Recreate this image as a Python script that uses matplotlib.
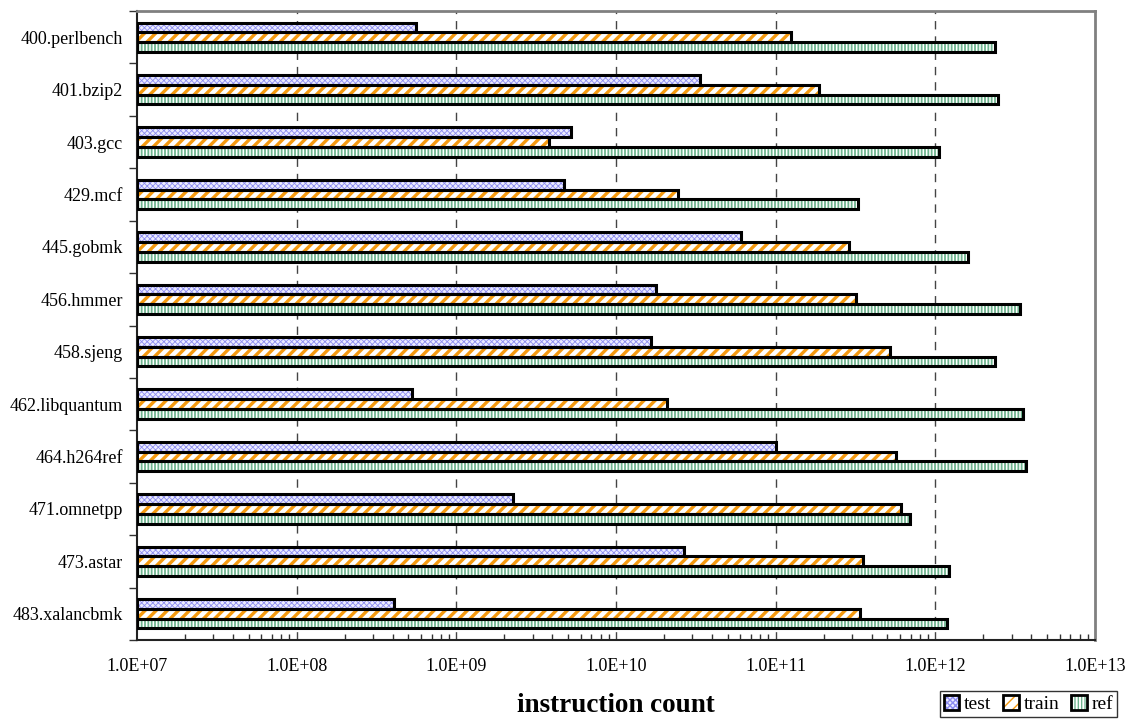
import matplotlib
matplotlib.use('Agg')
import matplotlib.pyplot as plt
import numpy as np
from matplotlib.patches import Patch
from matplotlib.legend_handler import HandlerTuple

benchmarks = ['400.perlbench', '401.bzip2', '403.gcc', '429.mcf', '445.gobmk',
              '456.hmmer', '458.sjeng', '462.libquantum', '464.h264ref',
              '471.omnetpp', '473.astar', '483.xalancbmk']
test = [5.6e8, 3.35e10, 5.2e9, 4.75e9, 6.1e10, 1.78e10,
        1.65e10, 5.3e8, 1.0e11, 2.27e9, 2.67e10, 4.05e8]
train = [1.24e11, 1.86e11, 3.8e9, 2.44e10, 2.9e11, 3.2e11,
         5.2e11, 2.1e10, 5.65e11, 6.1e11, 3.54e11, 3.37e11]
ref = [2.38e12, 2.47e12, 1.06e12, 3.3e11, 1.61e12, 3.37e12,
       2.38e12, 3.56e12, 3.7e12, 6.9e11, 1.21e12, 1.19e12]
xticks = [1e7, 1e8, 1e9, 1e10, 1e11, 1e12, 1e13]
xticklabels = ['1.0E+07', '1.0E+08', '1.0E+09', '1.0E+10', '1.0E+11', '1.0E+12', '1.0E+13']

plt.rcParams['font.family'] = ['Liberation Serif', 'DejaVu Serif']

fig = plt.figure(figsize=(11.33, 7.2), dpi=100)
ax = fig.add_axes([137 / 1133, 1 - 640 / 720, (1095 - 137) / 1133, (640 - 11) / 720])

y = np.arange(len(benchmarks))
h = 0.187
base = 1e7

styles = [
    # values, offset, face, hatch, hatch colour, hatch lw
    (test, -h, '#ececff', 'xxxxxx', '#8c8cf0', 0.6),
    (train, 0.0, 'white', '///', '#f59a10', 2.4),
    (ref, h, 'white', '|||||', '#6fb48f', 1.3),
]

handles = []
for vals, off, face, hatch, hcol, hlw in styles:
    widths = np.array(vals) - base
    with plt.rc_context({'hatch.linewidth': hlw}):
        bars = ax.barh(y + off, widths, left=base, height=h, color=face,
                       hatch=hatch, edgecolor=hcol, linewidth=0, zorder=2)
    for p in bars:
        if hasattr(p, 'set_hatch_linewidth'):
            p.set_hatch_linewidth(hlw)
    ax.barh(y + off, widths, left=base, height=h, fill=False,
            edgecolor='black', linewidth=2.2, zorder=3)
    with plt.rc_context({'hatch.linewidth': hlw}):
        hp = Patch(facecolor=face, hatch=hatch, edgecolor=hcol, linewidth=0)
    if hasattr(hp, 'set_hatch_linewidth'):
        hp.set_hatch_linewidth(hlw)
    op = Patch(fill=False, edgecolor='black', linewidth=2)
    handles.append((hp, op))

ax.set_xscale('log')
ax.set_xlim(1e7, 1e13)
ax.set_ylim(len(benchmarks) - 0.5, -0.5)

ax.set_xticks(xticks)
ax.set_xticklabels(xticklabels, fontsize=13)
ax.tick_params(axis='x', which='major', direction='in', length=0, pad=13)
ax.tick_params(axis='x', which='minor', direction='in', length=4, width=1, color='#333333')

ax.set_yticks(y)
ax.set_yticklabels(benchmarks, fontsize=13)
ax.set_yticks(np.arange(len(benchmarks) + 1) - 0.5, minor=True)
ax.tick_params(axis='y', which='major', length=0, pad=10)
ax.tick_params(axis='y', which='minor', direction='out', length=6, width=1, color='#333333')

for xv in xticks[1:-1]:
    ax.axvline(xv, color='#444444', linestyle=(0, (6, 5)), linewidth=1, zorder=1)

ax.spines['top'].set_color('#808080')
ax.spines['right'].set_color('#808080')
ax.spines['top'].set_linewidth(2)
ax.spines['right'].set_linewidth(2)
ax.spines['left'].set_color('#222222')
ax.spines['bottom'].set_color('#222222')
ax.spines['left'].set_linewidth(1.5)
ax.spines['bottom'].set_linewidth(1.5)

fig.text(616 / 1133, 1 - 706 / 720, 'instruction count', fontsize=19.5,
         fontweight='bold', ha='center', va='center')

leg = fig.legend(handles, ['test', 'train', 'ref'], ncol=3,
                 handler_map={tuple: HandlerTuple(ndivide=1)},
                 loc='lower right', bbox_to_anchor=(1117 / 1133, 1 - 717 / 720),
                 fontsize=14, frameon=True, fancybox=False, edgecolor='black',
                 handlelength=0.8, handleheight=0.8, handletextpad=0.25,
                 columnspacing=0.6, borderpad=0.2, borderaxespad=0)
leg.get_frame().set_linewidth(1)

fig.savefig('out.png', dpi=100)
